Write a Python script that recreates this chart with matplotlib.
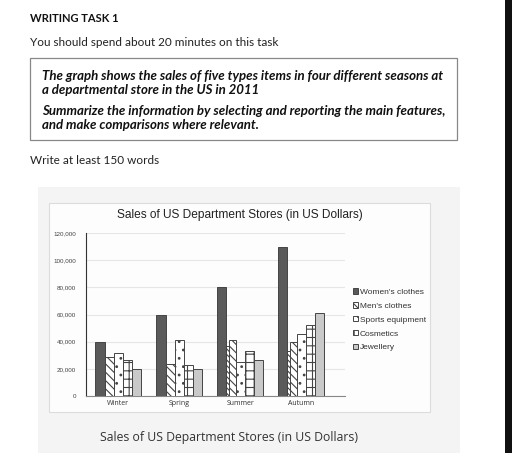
import numpy as np
import matplotlib.pyplot as plt
from matplotlib.patches import Rectangle

# data
seasons = ["Winter", "Spring", "Summer", "Autumn"]
series = ["Women's clothes", "Men's clothes", "Sports equipment", "Cosmetics", "Jewellery"]
women = [40000, 60000, 80000, 110000]
men = [29000, 23500, 41000, 40000]
sports = [32000, 41000, 25000, 46000]
cosmetics = [26500, 23000, 33000, 52000]
jewellery = [20000, 20000, 26500, 61000]
# partly hidden bar behind the men's bar in summer / autumn
men_back = [0, 0, 37000, 33000]
yticks = [0, 20000, 40000, 60000, 80000, 100000, 120000]

W, H = 512, 453
fig = plt.figure(figsize=(W / 100, H / 100), dpi=100)
fig.patch.set_facecolor("white")


def fx(px):
    return px / W


def fy(py):
    return 1 - py / H


# =====================
# header text
# =====================
hfont = "Lato"
fig.text(fx(30), fy(18), "WRITING TASK 1", fontsize=8, fontweight="bold",
         family=hfont, va="center", color="#111")
fig.text(fx(30), fy(43), "You should spend about 20 minutes on this task", fontsize=8.5,
         family=hfont, va="center", color="#222")
fig.patches.append(Rectangle((fx(30), fy(140)), fx(457) - fx(30), fy(58) - fy(140),
                             transform=fig.transFigure, fill=False, ec="#888", lw=0.9))
task_lines = [
    (76, "The graph shows the sales of five types items in four different seasons at"),
    (90, "a departmental store in the US in 2011"),
    (111, "Summarize the information by selecting and reporting the main features,"),
    (125, "and make comparisons where relevant."),
]
for y, s in task_lines:
    fig.text(fx(42), fy(y), s, fontsize=9.5, fontweight="bold", style="italic",
             family=hfont, va="center", color="#111")
fig.text(fx(30), fy(160), "Write at least 150 words", fontsize=8.5,
         family=hfont, va="center", color="#222")

# =====================
# chart background
# =====================
fig.patches.append(Rectangle((fx(38), 0), fx(460) - fx(38), fy(187),
                             transform=fig.transFigure, fc="#f4f4f4", ec="none", zorder=-2))
fig.patches.append(Rectangle((fx(49), fy(412)), fx(430) - fx(49), fy(203) - fy(412),
                             transform=fig.transFigure, fc="#fdfdfd", ec="#dcdcdc", lw=0.8,
                             zorder=-1))
fig.patches.append(Rectangle((fx(505), 0), fx(512) - fx(505), 1,
                             transform=fig.transFigure, fc="#111", ec="none"))

fig.text(fx(240), fy(215), "Sales of US Department Stores (in US Dollars)", fontsize=8.6,
         family="Liberation Sans", ha="center", va="center", color="#222")
fig.text(fx(229), fy(437), "Sales of US Department Stores (in US Dollars)", fontsize=8.8,
         family="Open Sans", ha="center", va="center", color="#333")

# =====================
# bars
# =====================
ax = fig.add_axes([fx(86), fy(396), fx(345) - fx(86), fy(233) - fy(396)])
ax.set_facecolor("none")
ax.set_zorder(3)

x = np.arange(len(seasons))
bw = 0.15
edge = "#444444"
styles = [
    dict(color="#5a5a5a", hatch=None),
    dict(color="white", hatch="\\\\\\\\"),
    dict(color="white", hatch=".."),
    dict(color="white", hatch="++"),
    dict(color="#c9c9c9", hatch=None),
]
values = [women, men, sports, cosmetics, jewellery]

plt.rcParams["hatch.linewidth"] = 0.8
has_back = np.array(men_back) > 0
ax.bar(x - bw, men_back, bw, color="white", hatch="\\\\\\\\\\\\",
       edgecolor=edge, linewidth=0.7, zorder=2)
handles = []
for i, (vals, st) in enumerate(zip(values, styles)):
    pos = x + (i - 2) * bw
    width = np.full(len(x), bw)
    if i == 1:
        # men's bar is pushed right where the hidden bar peeks out
        width = np.where(has_back, bw * 0.7, bw)
        pos = np.where(has_back, pos + bw * 0.15, pos)
    b = ax.bar(pos, vals, width, color=st["color"], hatch=st["hatch"],
               edgecolor=edge, linewidth=0.7, zorder=3, label=series[i])
    handles.append(b)

ax.set_xlim(-0.53, 3.72)
ax.set_ylim(0, 120000)
ax.set_yticks(yticks)
ax.set_yticklabels([f"{v:,}" for v in yticks], fontsize=4.5, color="#444",
                   family="Liberation Sans")
ax.set_xticks(x)
ax.set_xticklabels(seasons, fontsize=5, color="#333", family="Open Sans")
ax.tick_params(length=0, pad=7)
ax.tick_params(axis="x", pad=3)
ax.grid(axis="y", color="#e6e6e6", lw=0.8, zorder=0)
for s in ["top", "right"]:
    ax.spines[s].set_visible(False)
ax.spines["left"].set_color("#333")
ax.spines["left"].set_linewidth(0.8)
ax.spines["bottom"].set_color("#888")
ax.spines["bottom"].set_linewidth(0.8)

leg = fig.legend(handles=handles, loc="upper left", bbox_to_anchor=(fx(345), fy(281)),
                 frameon=False, fontsize=6, handlelength=0.6, handleheight=0.6,
                 handletextpad=0.25, labelspacing=0.75,
                 prop={"family": "Liberation Sans", "size": 6})
for t in leg.get_texts():
    t.set_color("#333")

fig.savefig("out.png", dpi=100)
